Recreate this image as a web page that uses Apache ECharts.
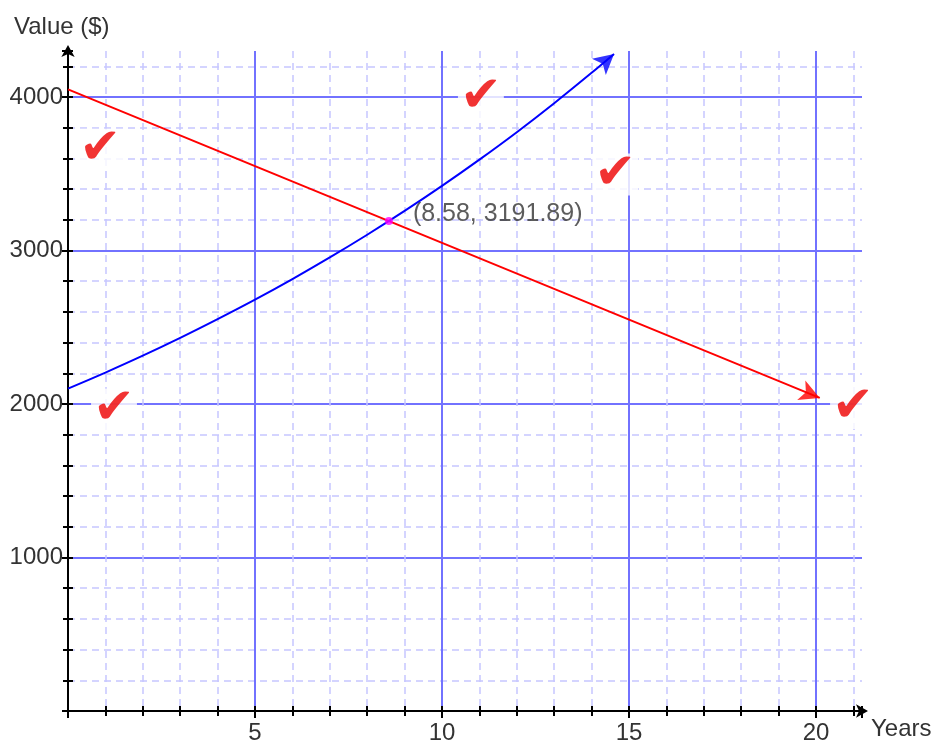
<!DOCTYPE html>
<html>
<head>
<meta charset="utf-8">
<script src="https://cdn.jsdelivr.net/npm/echarts@6/dist/echarts.min.js"></script>
<style>
html,body{margin:0;padding:0;background:#fff;}
#chart{width:937px;height:745px;}
</style>
</head>
<body>
<div id="chart"></div>
<script>
// ---- data ----
const xTickLabels = [5, 10, 15, 20];
const yTickLabels = [1000, 2000, 3000, 4000];
// straight-line value (red)
const redYears = [0, 20.1];
const redValues = [4050, 2040];
// growing value (blue)
const blueYears = [0, 1, 2, 3, 4, 5, 6, 7, 8, 9, 10, 11, 12, 13, 14, 14.6];
const blueValues = [2100, 2205, 2315, 2431, 2553, 2680, 2814, 2955, 3103, 3258, 3421, 3592, 3771, 3960, 4158, 4281];
// intersection
const crossPoint = [8.58, 3191.89];
const crossLabel = '(8.58, 3191.89)';
// check marks
const checkYears = [0.86, 11.04, 20.99, 1.23, 14.63];
const checkValues = [3683, 4021, 2000, 1988, 3521];
const axisNames = ['Years', 'Value ($)'];

const FONT = '"Liberation Sans", Arial, sans-serif';
const TEXT = '#333333';
const MAJOR = '#7272ff';
const MINOR = '#c6c6ff';

const chart = echarts.init(document.getElementById('chart'), null, {renderer: 'canvas'});

function zip(a, b) { return a.map((v, i) => [v, b[i]]); }

const xMax = 21.23, yMax = 4300;

const baseX = {type: 'value', min: 0, max: xMax, interval: 5, gridIndex: 0};
const baseY = {type: 'value', min: 0, max: yMax, interval: 1000, gridIndex: 0};

const option = {
  animation: false,
  backgroundColor: '#ffffff',
  grid: {left: 68, right: 75, top: 51, bottom: 32, containLabel: false},
  xAxis: [
    Object.assign({}, baseX, {
      position: 'bottom',
      axisLine: {show: true, onZero: false, lineStyle: {color: '#000', width: 2}, symbol: ['none', 'arrow'], symbolSize: [10, 12], symbolOffset: [0, 6]},
      axisTick: {show: true, length: 7, lineStyle: {color: '#000', width: 2}},
      minorTick: {show: true, splitNumber: 5, length: 5, lineStyle: {color: '#000', width: 2}},
      splitLine: {show: true, showMinLine: false, showMaxLine: false, lineStyle: {color: MAJOR, width: 2}},
      minorSplitLine: {show: true, lineStyle: {color: MINOR, width: 1.5, type: [7, 5]}},
      axisLabel: {
        show: true, margin: 10, fontSize: 24, color: TEXT, fontFamily: FONT,
        showMinLabel: false, showMaxLabel: false,
        formatter: v => (xTickLabels.indexOf(v) >= 0 ? String(v) : '')
      }
    }),
    Object.assign({}, baseX, {
      position: 'bottom', offset: 0,
      axisLine: {show: false},
      axisTick: {show: true, inside: true, length: 5, lineStyle: {color: '#000', width: 2}},
      minorTick: {show: true, splitNumber: 5, length: 5, lineStyle: {color: '#000', width: 2}},
      splitLine: {show: false}, axisLabel: {show: false}
    })
  ],
  yAxis: [
    Object.assign({}, baseY, {
      position: 'left',
      axisLine: {show: true, onZero: false, lineStyle: {color: '#000', width: 2}, symbol: ['none', 'arrow'], symbolSize: [10, 12], symbolOffset: [0, 6]},
      axisTick: {show: true, length: 6, lineStyle: {color: '#000', width: 2}},
      minorTick: {show: true, splitNumber: 5, length: 5, lineStyle: {color: '#000', width: 2}},
      splitLine: {show: true, showMinLine: false, showMaxLine: false, lineStyle: {color: MAJOR, width: 2}},
      minorSplitLine: {show: true, lineStyle: {color: MINOR, width: 1.5, type: [7, 5]}},
      axisLabel: {
        show: true, margin: 5, fontSize: 24, color: TEXT, fontFamily: FONT,
        showMinLabel: false, showMaxLabel: false,
        formatter: v => (yTickLabels.indexOf(v) >= 0 ? String(v) : '')
      }
    }),
    Object.assign({}, baseY, {
      position: 'left', offset: 0,
      axisLine: {show: false},
      axisTick: {show: true, inside: true, length: 5, lineStyle: {color: '#000', width: 2}},
      minorTick: {show: true, splitNumber: 5, length: 5, lineStyle: {color: '#000', width: 2}},
      splitLine: {show: false}, axisLabel: {show: false}
    })
  ],
  series: [
    {
      type: 'line', name: 'red', xAxisIndex: 0, yAxisIndex: 0,
      data: zip(redYears, redValues), symbol: 'none',
      lineStyle: {color: '#ff0000', width: 2}, z: 3
    },
    {
      type: 'scatter', xAxisIndex: 0, yAxisIndex: 0,
      data: [zip(redYears, redValues)[redYears.length - 1]],
      symbol: 'arrow', symbolSize: [16, 20], symbolRotate: -112.4,
      itemStyle: {color: '#ff0000'}, z: 4
    },
    {
      type: 'line', name: 'blue', xAxisIndex: 0, yAxisIndex: 0,
      data: zip(blueYears, blueValues), symbol: 'none', smooth: 0.3,
      lineStyle: {color: '#0000ff', width: 2}, z: 3
    },
    {
      type: 'scatter', xAxisIndex: 0, yAxisIndex: 0,
      data: [zip(blueYears, blueValues)[blueYears.length - 1]],
      symbol: 'arrow', symbolSize: [16, 20], symbolRotate: -49.3,
      itemStyle: {color: '#0000ff'}, z: 4
    },
    {
      type: 'scatter', xAxisIndex: 0, yAxisIndex: 0,
      data: [crossPoint], symbolSize: 8,
      itemStyle: {color: '#ff00ff'}, z: 5,
      label: {
        show: true, position: 'right', offset: [15, -7],
        formatter: crossLabel, fontSize: 25, color: TEXT, fontFamily: FONT
      }
    },
    {
      type: 'scatter', xAxisIndex: 0, yAxisIndex: 0,
      data: zip(checkYears, checkValues), symbolSize: 0, z: 6,
      itemStyle: {color: 'rgba(0,0,0,0)'},
      label: {
        show: true, position: 'inside', offset: [0, 4], formatter: '\u2714',
        fontSize: 50, lineHeight: 42, color: '#ee0000', fontFamily: '"DejaVu Sans", sans-serif',
        backgroundColor: '#ffffff', padding: [0, 2, 0, 2]
      }
    }
  ],
  graphic: [
    {type: 'text', left: 14, top: 15, style: {text: axisNames[1], fontSize: 24, fill: TEXT, fontFamily: FONT}},
    {type: 'text', left: 871, top: 717, style: {text: axisNames[0], fontSize: 24, fill: TEXT, fontFamily: FONT}}
  ]
};

chart.setOption(option);
</script>
</body>
</html>
